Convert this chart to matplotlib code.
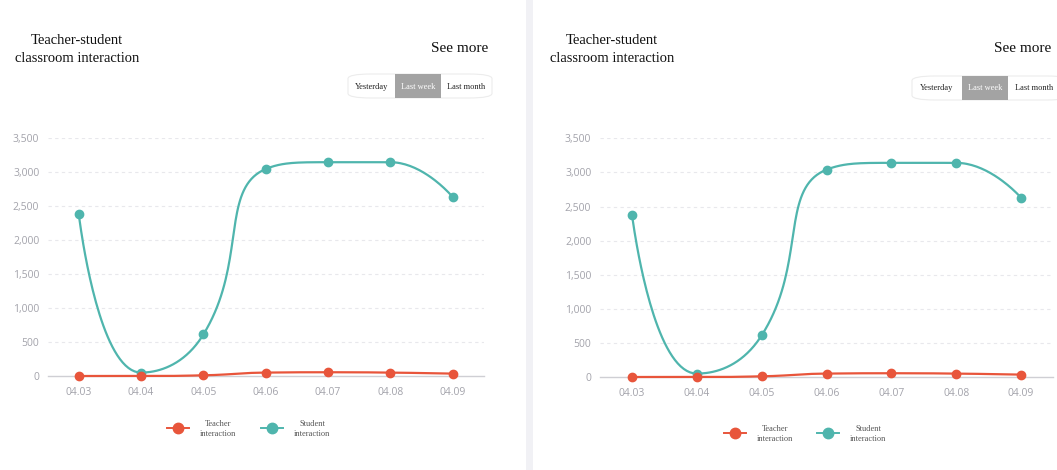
import numpy as np
import matplotlib
matplotlib.use("Agg")
import matplotlib.pyplot as plt
from matplotlib.lines import Line2D
from matplotlib.patches import Rectangle, FancyBboxPatch

# ---- data ----
dates = ["04.03", "04.04", "04.05", "04.06", "04.07", "04.08", "04.09"]
teacher = [0, 0, 10, 50, 55, 50, 35]
student = [2380, 50, 610, 3040, 3140, 3140, 2630]
yticks = [0, 500, 1000, 1500, 2000, 2500, 3000, 3500]
title_text = "Teacher-student\nclassroom interaction"
see_more = "See more"
buttons = ["Yesterday", "Last week", "Last month"]
legend_labels = ["Teacher\ninteraction", "Student\ninteraction"]

TEACHER_C = "#e8553b"
STUDENT_C = "#4fb5ad"

W, H = 1057, 470
fig = plt.figure(figsize=(W / 100, H / 100), dpi=100)
fig.patch.set_facecolor("white")


def fx(x):
    return x / W


def fy(y):
    return 1 - y / H


def smooth_curve(ax, xs, ys, smooth=0.5, n=40):
    """Smooth line with clamped bezier control points, computed in pixel space."""
    pts = ax.transData.transform(np.column_stack([xs, ys]))
    m = len(pts)
    segs = []
    cp0 = pts[0].copy()
    for i in range(1, m):
        px, py = pts[i - 1]
        x, y = pts[i]
        if i == m - 1:
            cp1 = np.array([x, y])
            ncp0 = None
        else:
            nx, ny = pts[i + 1]
            vx, vy = nx - px, ny - py
            lp = np.hypot(x - px, y - py)
            ln = np.hypot(nx - x, ny - y)
            r = ln / (ln + lp)
            ncx = x + vx * smooth * r
            ncy = y + vy * smooth * r
            ncx = min(ncx, max(nx, x)); ncy = min(ncy, max(ny, y))
            ncx = max(ncx, min(nx, x)); ncy = max(ncy, min(ny, y))
            vx, vy = ncx - x, ncy - y
            c1x = x - vx * lp / ln
            c1y = y - vy * lp / ln
            c1x = min(c1x, max(px, x)); c1y = min(c1y, max(py, y))
            c1x = max(c1x, min(px, x)); c1y = max(c1y, min(py, y))
            vx, vy = x - c1x, y - c1y
            ncx = x + vx * ln / lp
            ncy = y + vy * ln / lp
            cp1 = np.array([c1x, c1y])
            ncp0 = np.array([ncx, ncy])
        t = np.linspace(0, 1, n)[:, None]
        p0 = pts[i - 1]
        p3 = pts[i]
        b = ((1 - t) ** 3) * p0 + 3 * ((1 - t) ** 2) * t * cp0 + 3 * (1 - t) * t ** 2 * cp1 + t ** 3 * p3
        segs.append(b if i == 1 else b[1:])
        cp0 = ncp0
    curve = np.vstack(segs)
    data = ax.transData.inverted().transform(curve)
    return data[:, 0], data[:, 1]


def panel(ax_left_px, ax_right_px, y0_px, y3500_px, title_cx, title_y, seemore_cx,
          seemore_y, pill, gray, btn_centers, btn_y, legend_spec, ylabel_pad):
    ax = fig.add_axes([fx(ax_left_px), fy(y0_px), fx(ax_right_px - ax_left_px),
                       (y0_px - y3500_px) / H])
    ax.set_xlim(-0.5, len(dates) - 0.5)
    ax.set_ylim(0, 3500)
    for sp in ["top", "right", "left"]:
        ax.spines[sp].set_visible(False)
    ax.spines["bottom"].set_color("#cfcfd4")
    ax.spines["bottom"].set_linewidth(1.0)
    ax.set_xticks(range(len(dates)))
    ax.set_xticklabels(dates)
    ax.set_yticks(yticks)
    ax.set_yticklabels([f"{v:,}" for v in yticks])
    ax.tick_params(axis="both", length=0, colors="#a3a3ab", labelsize=7.5)
    ax.tick_params(axis="x", pad=8)
    ax.tick_params(axis="y", pad=ylabel_pad)
    for lab in ax.get_xticklabels() + ax.get_yticklabels():
        lab.set_fontfamily("Open Sans")
    for v in yticks[1:]:
        ax.axhline(v, color="#e8e8ec", lw=0.8, ls=(0, (3, 3)), zorder=0)
    ax.set_facecolor("none")

    xs = np.arange(len(dates))
    sx, sy = smooth_curve(ax, xs, student)
    ax.plot(sx, sy, color=STUDENT_C, lw=1.6, zorder=3, clip_on=False)
    ax.plot(xs, student, "o", color=STUDENT_C, ms=6, zorder=4, clip_on=False)
    tx, ty = smooth_curve(ax, xs, teacher)
    ax.plot(tx, ty, color=TEACHER_C, lw=1.6, zorder=5, clip_on=False)
    ax.plot(xs, teacher, "o", color=TEACHER_C, ms=6, zorder=6, clip_on=False)

    # titles
    fig.text(fx(title_cx), fy(title_y), title_text, ha="center", va="center",
             fontfamily="Liberation Serif", fontsize=10.5, color="#111111",
             linespacing=1.5)
    fig.text(fx(seemore_cx), fy(seemore_y), see_more, ha="center", va="center",
             fontfamily="Liberation Serif", fontsize=11, color="#111111")

    # button group
    px0, py0, px1, py1 = pill
    fig.add_artist(FancyBboxPatch((fx(px0), fy(py1)), fx(px1 - px0), (py1 - py0) / H,
                                  boxstyle="round,pad=0,rounding_size=0.022",
                                  transform=fig.transFigure, facecolor="white",
                                  edgecolor="#ececec", lw=0.8, mutation_aspect=0.45,
                                  zorder=1))
    gx0, gy0, gx1, gy1 = gray
    fig.add_artist(Rectangle((fx(gx0), fy(gy1)), fx(gx1 - gx0), (gy1 - gy0) / H,
                             transform=fig.transFigure, facecolor="#a3a3a3",
                             edgecolor="none", zorder=2))
    for b, cx in zip(buttons, btn_centers):
        fig.text(fx(cx), fy(btn_y), b, ha="center", va="center",
                 fontfamily="Liberation Serif", fontsize=6,
                 color="white" if b == "Last week" else "#222222", zorder=3)

    # legend
    for (mx, my, tcx, label, col) in legend_spec:
        fig.add_artist(Line2D([fx(mx - 11), fx(mx + 11)], [fy(my), fy(my)],
                              transform=fig.transFigure, color=col, lw=1.4))
        fig.add_artist(Line2D([fx(mx)], [fy(my)], transform=fig.transFigure,
                              color=col, marker="o", ms=7.5, lw=0))
        fig.text(fx(tcx), fy(my + 1), label, ha="center", va="center",
                 fontfamily="Liberation Serif", fontsize=6, color="#555555",
                 linespacing=1.35)
    return ax


# separator band between panels
fig.add_artist(Rectangle((fx(526), 0), fx(7), 1, transform=fig.transFigure,
                         facecolor="#f1f1f5", edgecolor="none", zorder=0))

panel(47.6, 483.8, 376, 137.7, 77, 49, 460, 48,
      (348, 74, 492, 98), (395, 74, 441, 98), (372, 418, 466), 87,
      [(178, 428, 218, legend_labels[0], TEACHER_C),
       (272, 428, 312, legend_labels[1], STUDENT_C)], 6)

panel(599.6, 1053.4, 377, 138.3, 612, 49, 1023, 48,
      (912, 76, 1070, 100), (962, 76, 1008, 100), (937, 985, 1034), 88,
      [(735, 433, 775, legend_labels[0], TEACHER_C),
       (828, 433, 868, legend_labels[1], STUDENT_C)], 6)

fig.savefig("out.png", dpi=100, facecolor="white")
